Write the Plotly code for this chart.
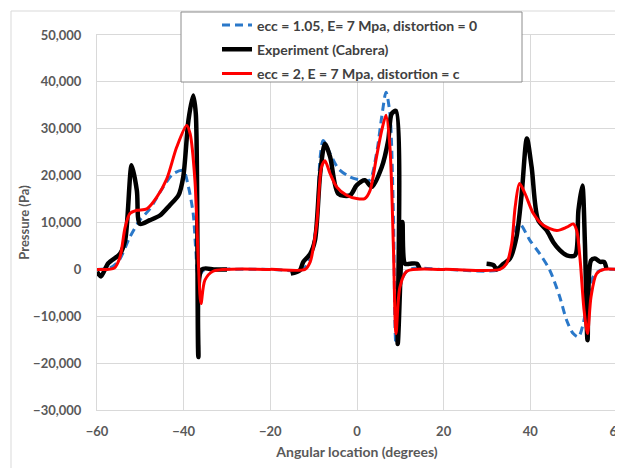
import plotly.graph_objects as go

# ---- data ----
blue_x = [-60, -57, -55, -52.4, -50.1, -47.8, -44.7, -42.4, -40.1, -38.9, -37.8, -37.2, -36.6, -35.5, -33,
          -20, -12.5, -10.8, -9.3, -8.5, -7.8, -6.2, -4.3, -1.6, 1.1, 2.9, 4.5, 5.7, 6.7, 7.6, 8.4, 9.0, 10.3, 12,
          20, 33, 35.3, 36.8, 37.6, 39.9, 42.2, 44.5, 46.8, 48.4, 49.9, 51.1, 52.2, 53.3, 54.5, 56.1, 60]
blue_y = [0, 300, 1800, 6900, 10500, 12900, 17600, 20400, 21100, 17600, 11900, 4100, -1500, -300, 0,
          0, 0, 2500, 10000, 24000, 27500, 24700, 21500, 19700, 19000, 19000, 24700, 32500, 37800, 33200, 11900, -15900, -2300, 0,
          0, 0, 2600, 9000, 9700, 6200, 3300, -200, -5900, -10900, -13700, -14400, -11600, -5900, -1600, -200, 0]

black_x = [-60, -59.1, -57.4, -54.7, -53.5, -52.0, -50.8, -50.1, -47.8, -45.5, -43.2, -41.2, -40.1, -38.9, -37.8, -37.2, -36.6, -35.8, -33, -30,
           None,
           -15.3, -13.2, -12.4, -10.8, -9.7, -8.5, -7.4, -6.2, -4.3, -1.6, -0.1, 1.8, 3.4, 5.7, 7.2, 8.0, 9.0, 9.4, 10.1, 10.5, 11.1, 12.2, 13.8, 14.5,
           None,
           29.9, 31.5, 32.2, 33.8, 35.3, 36.8, 38.0, 39.2, 40.3, 41.8, 43.8, 45.3, 46.8, 48.4, 50.3, 51.1, 52.0, 52.6, 53.2, 54.0, 54.9, 56.1, 57.0, 57.6]
black_y = [-500, -1500, 1300, 3300, 6200, 22200, 16800, 9700, 10500, 11500, 13700, 15800, 19700, 31800, 37100, 33200, -18700, 0, 0, 0,
           None,
           -900, -200, 1600, 3300, 6200, 20400, 26800, 24000, 16100, 15800, 17900, 19000, 17600, 21800, 27500, 33200, 33800, -15900, 500, 10100, 1200, 1200, 1200, 0,
           None,
           1200, 900, 0, 1200, 2300, 6900, 16100, 27900, 21800, 10500, 8300, 5800, 4100, 3000, 3000, 12600, 17900, 5500, -15100, 1900, 2300, 1600, 1600, 0]

red_x = [-60, -56, -54.7, -53.5, -52.4, -50.8, -48.5, -46.2, -43.9, -41.6, -39.3, -38.5, -37.4, -36.6, -36.0, -35.1, -33.2,
         -20, -12, -10.8, -9.3, -8.2, -7.4, -6.2, -4.7, -2.4, -0.1, 1.8, 3.0, 4.5, 5.7, 6.7, 7.6, 8.4, 9.0, 9.9, 11.5,
         20, 33, 34.5, 35.7, 36.5, 37.5, 38.8, 40.7, 43.0, 46.1, 48.4, 49.9, 50.7, 51.5, 52.4, 53.2, 54.0, 55.3, 57, 60]
red_y = [0, 300, 2600, 9000, 11900, 12600, 12900, 15400, 19300, 26100, 30700, 28900, 19000, 1200, -7300, -2300, -400,
         0, 0, 1600, 9700, 21800, 23200, 20400, 17600, 15800, 15100, 15100, 16800, 24000, 29600, 32900, 26100, 4800, -13700, -3800, -400,
         0, 0, 1200, 5500, 13300, 18300, 16100, 11900, 9400, 8300, 9000, 9700, 8300, 1900, -8700, -13700, -5900, -900, 0, 0]

names = ["ecc = 1.05, E= 7 Mpa, distortion = 0", "Experiment (Cabrera)", "ecc = 2, E = 7 Mpa, distortion = c"]

FONT = "Lato"
GRAY = "#595959"

fig = go.Figure()
fig.add_trace(go.Scatter(x=blue_x, y=blue_y, mode="lines", name=names[0], legendgroup="a",
                         line=dict(color="#2a78c9", width=3, dash="8px,5px", shape="spline", smoothing=0.8)))
fig.add_trace(go.Scatter(x=black_x, y=black_y, mode="lines", name=names[1], legendgroup="b",
                         line=dict(color="#000000", width=4.5, shape="spline", smoothing=0.8)))
fig.add_trace(go.Scatter(x=red_x, y=red_y, mode="lines", name=names[2], legendgroup="c",
                         line=dict(color="#ff0000", width=3, shape="spline", smoothing=0.8)))

# page body has an 8px margin: figure is drawn 8px in from the window corner
OFF = 8
W, H = 623 - OFF, 468 - OFF
L, R, T = 97 - OFF, 6, 35 - OFF
B = H - T - 375
pw, ph = W - L - R, H - T - B

def px(xw):  # window pixel x -> paper
    return (xw - OFF - L) / pw

def py(yw):  # window pixel y -> paper
    return (H - B - (yw - OFF)) / ph

fig.update_layout(
    width=W, height=H,
    margin=dict(l=L, r=R, t=T, b=B, autoexpand=False),
    paper_bgcolor="white", plot_bgcolor="white",
    font=dict(family=FONT, color=GRAY, size=13),
    showlegend=True,
    legend=dict(x=px(217), y=py(9.5), xanchor="left", yanchor="top",
                bgcolor="rgba(0,0,0,0)", borderwidth=0,
                font=dict(family=FONT, size=14, color="#404040", weight="bold"),
                tracegroupgap=3, itemwidth=30, traceorder="grouped"),
    shapes=[
        dict(type="rect", xref="paper", yref="paper", x0=px(11), x1=px(640), y0=py(480), y1=py(11),
             line=dict(color="#d9d9d9", width=1), fillcolor="rgba(0,0,0,0)", layer="below"),
        dict(type="rect", xref="paper", yref="paper", x0=px(181), x1=px(522), y0=py(82), y1=py(12),
             line=dict(color="#8c8c8c", width=1), fillcolor="white", layer="above"),
    ],
)
fig.update_xaxes(range=[-60, 60], dtick=20, tick0=-60, showgrid=True, gridcolor="#d9d9d9", gridwidth=1,
                 zeroline=False, showline=True, mirror=True, linecolor="#d9d9d9",
                 ticks="outside", ticklen=9, tickcolor="rgba(0,0,0,0)", ticklabeloverflow="allow",
                 tickfont=dict(family=FONT, size=13, color=GRAY, weight="bold"),
                 title=dict(text="Angular location (degrees)", standoff=9,
                            font=dict(family=FONT, size=14, color=GRAY, weight="bold")))
fig.update_yaxes(range=[-30000, 50000], dtick=10000, tickformat=",", showgrid=True, gridcolor="#d9d9d9", gridwidth=1,
                 zeroline=False, showline=True, mirror=True, linecolor="#d9d9d9",
                 ticks="outside", ticklen=12, tickcolor="rgba(0,0,0,0)",
                 tickfont=dict(family=FONT, size=13, color=GRAY, weight="bold"),
                 title=dict(text="Pressure (Pa)", standoff=0,
                            font=dict(family=FONT, size=13, color=GRAY, weight="bold")))

fig.write_html("out.html")
